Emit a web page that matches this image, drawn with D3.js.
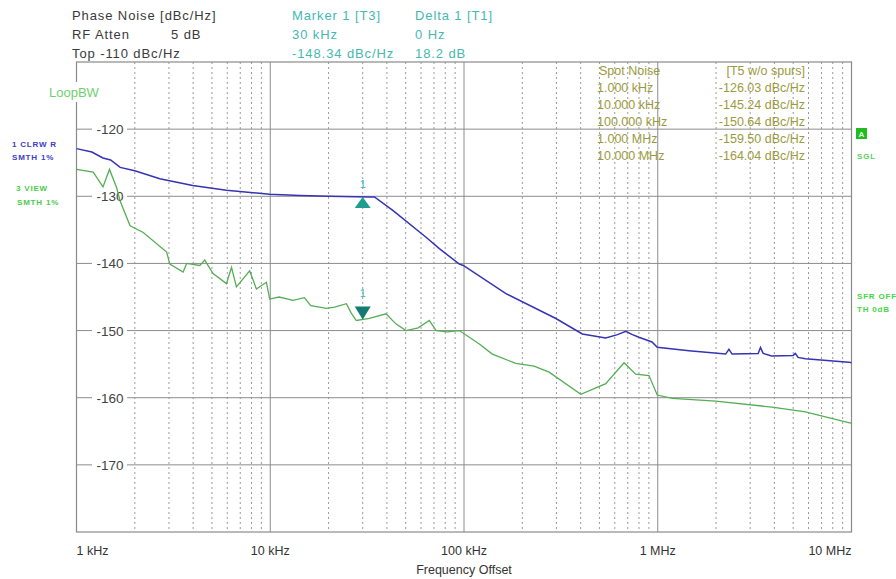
<!DOCTYPE html>
<html>
<head>
<meta charset="utf-8">
<script src="https://cdn.jsdelivr.net/npm/d3@7"></script>
<style>
  body { margin: 0; background: #fff; }
  svg { display: block; font-family: "Liberation Sans", Arial, sans-serif; }
</style>
</head>
<body>
<svg id="chart" width="896" height="579"></svg>
<script>
// trace 1 (blue, CLRWR) and trace 3 (green, VIEW), frequency offset in Hz, noise in dBc/Hz
const blueFreq = [1000, 1200, 1370, 1500, 1680, 2000, 2690, 3980, 5940, 9930, 14200, 20000, 32500, 34500,
  42900, 63700, 74600, 94600, 99200, 164600, 298000, 408000, 539000, 620000, 684000, 740000, 800000,
  934000, 994000, 1450000, 2240000, 2330000, 2420000, 3300000, 3390000, 3500000, 3870000, 5000000,
  5130000, 5300000, 5780000, 9660000, 10000000];
const blueDb = [-122.9, -123.4, -124.3, -124.6, -125.7, -126.2, -127.4, -128.4, -129.1, -129.7, -129.9,
  -130.0, -130.1, -130.1, -132.1, -136.1, -137.8, -140.1, -140.3, -144.5, -148.2, -150.5, -151.1,
  -150.6, -150.1, -150.6, -151.0, -151.7, -152.5, -153.0, -153.5, -152.8, -153.5, -153.4, -152.5,
  -153.4, -153.8, -153.7, -153.4, -154.0, -154.2, -154.7, -154.8];

const greenFreq = [1000, 1220, 1370, 1480, 1610, 1680, 1890, 2210, 2920, 3030, 3550, 3700, 4330, 4590,
  5070, 5940, 6310, 6690, 7830, 8480, 9550, 9930, 11100, 13100, 15000, 16200, 19500, 21500, 24700,
  26200, 27800, 32500, 39600, 44500, 50200, 58000, 66200, 71800, 82000, 94600, 120000, 140000, 185000,
  230000, 275000, 401000, 539000, 670000, 769000, 901000, 994000, 1190000, 1990000, 3890000, 5780000,
  9660000, 10000000];
const greenDb = [-126.0, -126.4, -128.6, -126.0, -128.7, -130.7, -134.4, -135.4, -138.3, -140.1, -141.3,
  -140.0, -140.3, -139.5, -141.5, -143.0, -140.6, -143.5, -141.1, -143.8, -142.8, -145.3, -145.0,
  -145.5, -145.1, -146.3, -146.7, -146.5, -146.0, -147.4, -148.5, -148.2, -147.5, -149.0, -150.0,
  -149.6, -148.5, -150.0, -150.2, -150.0, -152.0, -153.5, -154.9, -155.3, -156.2, -159.5, -157.9,
  -154.8, -156.5, -156.7, -159.6, -160.1, -160.5, -161.4, -162.1, -163.7, -163.8];

const yTicks = [-120, -130, -140, -150, -160, -170];
const xTickLabels = [[1e3, "1 kHz"], [1e4, "10 kHz"], [1e5, "100 kHz"], [1e6, "1 MHz"], [1e7, "10 MHz"]];

const headerLeft = [["Phase Noise [dBc/Hz]", ""], ["RF Atten", "5 dB"], ["Top -110 dBc/Hz", ""]];
const markerCol = ["Marker 1 [T3]", "30 kHz", "-148.34 dBc/Hz"];
const deltaCol = ["Delta 1 [T1]", "0 Hz", "18.2 dB"];
const spotFreqs = ["1.000 kHz", "10.000 kHz", "100.000 kHz", "1.000 MHz", "10.000 MHz"];
const spotValues = ["-126.03 dBc/Hz", "-145.24 dBc/Hz", "-150.64 dBc/Hz", "-159.50 dBc/Hz", "-164.04 dBc/Hz"];
const marker = { freq: 30000, blue: -130.1, green: -148.34 };

const svg = d3.select("#chart");
const pL = 76.5, pR = 851.5, pT = 62, pB = 532;

const x = d3.scaleLog().domain([1e3, 1e7]).range([pL, pR]);
const y = d3.scaleLinear().domain([-180, -110]).range([pB, pT]);

// grid: dotted minor decades, solid decades
const g = svg.append("g");
const minor = [];
for (let d = 1e3; d < 1e7; d *= 10) for (let k = 2; k <= 9; k++) minor.push(d * k);
g.selectAll("line.minor").data(minor).enter().append("line")
  .attr("x1", d => x(d)).attr("x2", d => x(d))
  .attr("y1", pT).attr("y2", pB)
  .attr("stroke", "#9a9a9a").attr("stroke-width", 1)
  .attr("stroke-dasharray", "2,3");
g.selectAll("line.major").data([1e4, 1e5, 1e6]).enter().append("line")
  .attr("x1", d => x(d)).attr("x2", d => x(d))
  .attr("y1", pT).attr("y2", pB)
  .attr("stroke", "#8c8c8c").attr("stroke-width", 1);

// horizontal grid with a gap for the label
yTicks.forEach(v => {
  g.append("line").attr("x1", pL).attr("x2", 92).attr("y1", y(v)).attr("y2", y(v))
    .attr("stroke", "#8c8c8c");
  g.append("line").attr("x1", 127).attr("x2", pR).attr("y1", y(v)).attr("y2", y(v))
    .attr("stroke", "#8c8c8c");
  g.append("text").attr("x", 110).attr("y", y(v) + 5)
    .attr("text-anchor", "middle").attr("font-size", 13.5).attr("fill", "#444")
    .text(v);
});

// frame
g.append("rect").attr("x", pL).attr("y", pT).attr("width", pR - pL).attr("height", pB - pT)
  .attr("fill", "none").attr("stroke", "#8a8a8a").attr("stroke-width", 1.2);

// traces
const line = d3.line().x(d => x(d[0])).y(d => y(d[1]));
svg.append("path").datum(d3.zip(greenFreq, greenDb))
  .attr("d", line).attr("fill", "none").attr("stroke", "#55ad55").attr("stroke-width", 1.3);
svg.append("path").datum(d3.zip(blueFreq, blueDb))
  .attr("d", line).attr("fill", "none").attr("stroke", "#3434b4").attr("stroke-width", 1.5);

// markers
const mx = x(marker.freq);
const yb = y(marker.blue), yg = y(marker.green);
svg.append("path").attr("d", `M${mx},${yb} L${mx - 8},${yb + 11} L${mx + 8},${yb + 11} Z`)
  .attr("fill", "#1f9e8f");
svg.append("text").attr("x", mx).attr("y", yb - 9).attr("text-anchor", "middle")
  .attr("font-size", 11).attr("fill", "#3fb5b0").text("1");
svg.append("path").attr("d", `M${mx},${yg} L${mx - 8},${yg - 13} L${mx + 8},${yg - 13} Z`)
  .attr("fill", "#137c72");
svg.append("text").attr("x", mx).attr("y", yg - 22).attr("text-anchor", "middle")
  .attr("font-size", 11).attr("fill", "#3fb5b0").text("1");

// header
const hdr = svg.append("g").attr("font-size", 13).attr("letter-spacing", 0.9);
headerLeft.forEach((r, i) => {
  hdr.append("text").attr("x", 72).attr("y", 20 + i * 19).attr("fill", "#3a3a3a").text(r[0]);
  if (r[1]) hdr.append("text").attr("x", 171).attr("y", 20 + i * 19).attr("fill", "#3a3a3a").text(r[1]);
});
markerCol.forEach((t, i) => hdr.append("text").attr("x", 292).attr("y", 20 + i * 19).attr("fill", "#45b8b2").text(t));
deltaCol.forEach((t, i) => hdr.append("text").attr("x", 415).attr("y", 20 + i * 19).attr("fill", "#45b8b2").text(t));

// spot noise table
const sp = svg.append("g").attr("font-size", 12.5).attr("fill", "#9c9a3e");
sp.append("text").attr("x", 599).attr("y", 75).text("Spot Noise");
sp.append("text").attr("x", 805).attr("y", 75).attr("text-anchor", "end").text("[T5 w/o spurs]");
spotFreqs.forEach((t, i) => {
  sp.append("text").attr("x", 597).attr("y", 92 + i * 17).text(t);
  sp.append("text").attr("x", 805).attr("y", 92 + i * 17).attr("text-anchor", "end").text(spotValues[i]);
});

// left labels
svg.append("rect").attr("x", 48).attr("y", 82).attr("width", 60).attr("height", 20).attr("fill", "#fff");
svg.append("text").attr("x", 49).attr("y", 97).attr("font-size", 13).attr("fill", "#70d070").text("LoopBW");
const lab = svg.append("g").attr("font-size", 8).attr("font-weight", "bold").attr("letter-spacing", 0.8);
lab.append("text").attr("x", 12).attr("y", 147).attr("fill", "#3c3cc8").text("1 CLRW R");
lab.append("text").attr("x", 12).attr("y", 160).attr("fill", "#3c3cc8").text("SMTH 1%");
lab.append("text").attr("x", 16).attr("y", 191).attr("fill", "#4ccc4c").text("3 VIEW");
lab.append("text").attr("x", 17).attr("y", 205).attr("fill", "#4ccc4c").text("SMTH 1%");

// right labels
svg.append("rect").attr("x", 856).attr("y", 128).attr("width", 11).attr("height", 11).attr("fill", "#22bb22");
svg.append("text").attr("x", 861.5).attr("y", 137).attr("text-anchor", "middle").attr("font-size", 8)
  .attr("font-weight", "bold").attr("fill", "#dfffdf").text("A");
lab.append("text").attr("x", 857).attr("y", 159).attr("fill", "#5ccc5c").text("SGL");
lab.append("text").attr("x", 857).attr("y", 299).attr("fill", "#44d844").text("SFR OFF");
lab.append("text").attr("x", 857).attr("y", 312).attr("fill", "#44d844").text("TH 0dB");

// x labels
xTickLabels.forEach(([f, t], i) => {
  const anchor = i === 0 ? "start" : (i === xTickLabels.length - 1 ? "end" : "middle");
  svg.append("text").attr("x", x(f)).attr("y", 555).attr("text-anchor", anchor)
    .attr("font-size", 12.5).attr("fill", "#333").text(t);
});
svg.append("text").attr("x", 464).attr("y", 574).attr("text-anchor", "middle")
  .attr("font-size", 12.5).attr("fill", "#333").text("Frequency Offset");
</script>
</body>
</html>
